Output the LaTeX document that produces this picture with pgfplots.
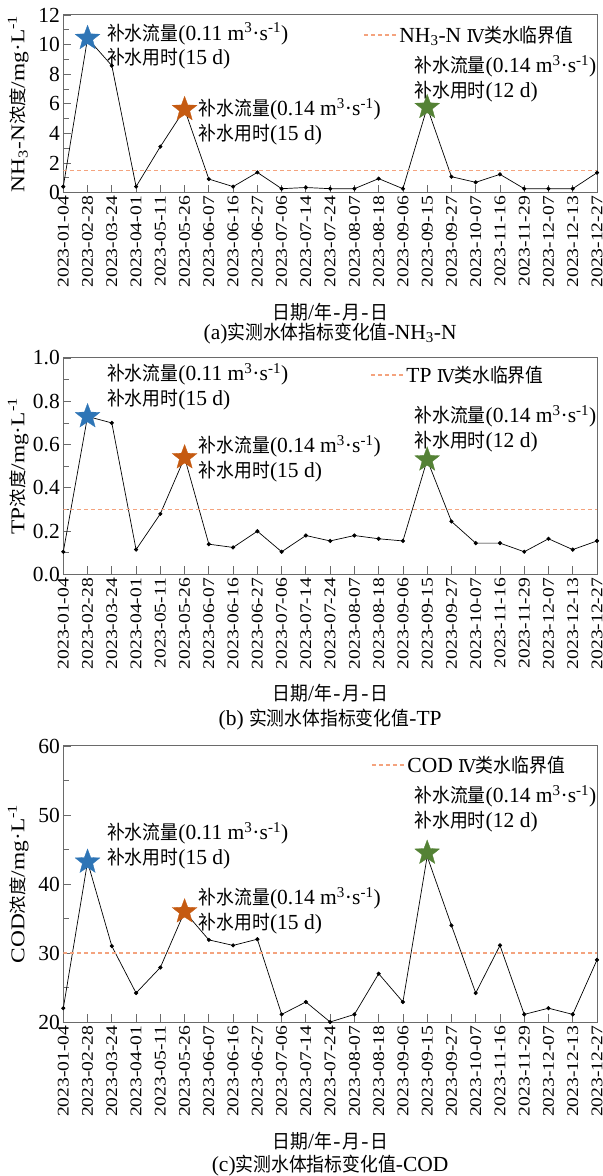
\documentclass[border=0pt]{standalone}
\usepackage{fontspec}
\setmainfont{Liberation Serif}
\newfontfamily\cjk{Noto Sans CJK SC}[Scale=0.9,FakeStretch=0.92]
\newfontfamily\rotlat{Liberation Serif}[FakeStretch=1.2]
\newfontfamily\rotcjk{Noto Sans CJK SC}[Scale=0.9,FakeStretch=1.05]
\newfontfamily\romfont{DejaVu Serif}[Scale=0.82]
\usepackage{pgfplots}
\pgfplotsset{compat=1.18}

\definecolor{starblue}{HTML}{2E75B6}
\definecolor{starorange}{HTML}{C55A11}
\definecolor{stargreen}{HTML}{548235}
\definecolor{limitcol}{HTML}{F4A37E}
\definecolor{framecol}{HTML}{6A6A6A}

% filled five-pointed star
\pgfdeclareplotmark{fstar}{%
  \pgfpathmoveto{\pgfpointpolar{90}{\pgfplotmarksize}}%
  \pgfpathlineto{\pgfpointpolar{126}{0.42\pgfplotmarksize}}%
  \pgfpathlineto{\pgfpointpolar{162}{\pgfplotmarksize}}%
  \pgfpathlineto{\pgfpointpolar{198}{0.42\pgfplotmarksize}}%
  \pgfpathlineto{\pgfpointpolar{234}{\pgfplotmarksize}}%
  \pgfpathlineto{\pgfpointpolar{270}{0.42\pgfplotmarksize}}%
  \pgfpathlineto{\pgfpointpolar{306}{\pgfplotmarksize}}%
  \pgfpathlineto{\pgfpointpolar{342}{0.42\pgfplotmarksize}}%
  \pgfpathlineto{\pgfpointpolar{18}{\pgfplotmarksize}}%
  \pgfpathlineto{\pgfpointpolar{54}{0.42\pgfplotmarksize}}%
  \pgfpathclose
  \pgfusepathqfillstroke}

\newcommand{\basefont}{\fontsize{21.5bp}{24.5bp}\selectfont}
\newcommand{\supply}[2]{{\cjk 补水流量}(#1 m\textsuperscript{3}·s\textsuperscript{-1})\\{\cjk 补水用时}(#2 d)}
\newcommand{\datelabel}{{\cjk 日期}/{\cjk 年}\hspace{1.5bp}-\hspace{1.5bp}{\cjk 月}\hspace{1.5bp}-\hspace{1.5bp}{\cjk 日}}
\newcommand{\classIV}{{\romfont Ⅳ}{\cjk 类水临界值}}

% measured concentrations, 2023 sampling dates
\pgfplotstableread{
i nh3n
0 0.41
1 10.43
2 8.58
3 0.41
4 3.11
5 5.63
6 0.92
7 0.41
8 1.37
9 0.27
10 0.35
11 0.27
12 0.27
13 0.95
14 0.27
15 5.77
16 1.08
17 0.70
18 1.24
19 0.27
20 0.27
21 0.27
22 1.35
}\nhtable
\pgfplotstableread{
i tp
0 0.105
1 0.73
2 0.70
3 0.115
4 0.28
5 0.54
6 0.14
7 0.125
8 0.20
9 0.105
10 0.18
11 0.155
12 0.18
13 0.165
14 0.155
15 0.53
16 0.245
17 0.145
18 0.145
19 0.105
20 0.165
21 0.115
22 0.155
}\tptable
\pgfplotstableread{
i cod
0 22
1 43.2
2 31
3 24.2
4 27.9
5 36
6 31.9
7 31.1
8 32
9 21.1
10 22.9
11 20
12 21.1
13 27
14 22.9
15 44
16 34
17 24.2
18 31.1
19 21.1
20 22
21 21.1
22 29
}\codtable

\tikzset{
  note/.style={anchor=north west, inner sep=0pt, align=left, font=\basefont},
  limitline/.style={limitcol, line width=1.25bp, dash pattern=on 4bp off 3bp},
}

\pgfplotsset{
  panel/.style={
    scale only axis, width=533.7bp,
    xmin=0, xmax=22, xtick={0,...,22},
    xticklabels={2023-01-04,2023-02-28,2023-03-24,2023-04-01,2023-05-11,2023-05-26,2023-06-07,2023-06-16,2023-06-27,2023-07-06,2023-07-14,2023-07-24,2023-08-07,2023-08-18,2023-09-06,2023-09-15,2023-09-27,2023-10-07,2023-11-16,2023-11-29,2023-12-07,2023-12-13,2023-12-27},
    xtick pos=bottom, ytick pos=left, tick align=inside,
    minor y tick num=1,
    major tick length=8bp, minor tick length=6bp,
    axis line style={framecol, line width=1bp},
    tick style={framecol, line width=0.8bp},
    /pgf/number format/assume math mode=true,
    xticklabel style={rotate=90, anchor=east, font=\rotlat\fontsize{16.3bp}{18bp}\selectfont},
    yticklabel style={font=\basefont},
    label style={font=\basefont},
    ylabel style={at={(axis description cs:0,0.5)}, anchor=center, yshift=45bp,
                  font=\rotlat\fontsize{19.5bp}{20bp}\selectfont},
    xlabel style={at={(axis description cs:0.5,0)}, anchor=center, yshift=-119bp},
    title style={at={(axis description cs:0.5,0)}, anchor=center, font=\basefont},
    xlabel={\datelabel},
    legend style={draw=none, fill=none, inner sep=0pt, font=\basefont, anchor=west},
    legend cell align=left,
    legend image code/.code={\draw[limitline] (0bp,0bp) -- (33bp,0bp);},
  },
  series/.style={black, line width=0.7bp, mark=*, mark size=1.7bp, forget plot},
  peak/.style={only marks, mark=fstar, mark size=13bp, forget plot,
               mark options={fill=#1, draw=#1, line width=0.3bp}},
}

\begin{document}
\begin{tikzpicture}
\useasboundingbox (0,0) rectangle (603bp,1176bp);

% (a) NH3-N
\begin{axis}[panel, at={(63.3bp,983.3bp)}, anchor=south west, height=177.7bp,
  ymin=0, ymax=12, ytick={0,2,...,12},
  ylabel={NH\textsubscript{3}-N{\rotcjk 浓度}/mg·L\textsuperscript{-1}},
  title={(a){\cjk 实测水体指标变化值}-NH\textsubscript{3}-N},
  title style={yshift=-147bp},
  legend style={at={(axis description cs:0.5616,0.887)}}]
\addplot[series] table[x=i, y=nh3n] {\nhtable};
\addplot[limitline] coordinates {(0,1.5) (22,1.5)};
\addlegendentry{NH\textsubscript{3}-N \classIV}
\addplot[peak=starblue] coordinates {(1,10.43)};
\addplot[peak=starorange] coordinates {(5,5.63)};
\addplot[peak=stargreen] coordinates {(15,5.77)};
\node[note] at (axis cs:1.8,11.48) {\supply{0.11}{15}};
\node[note] at (axis cs:5.58,6.39) {\supply{0.14}{15}};
\node[note] at (axis cs:14.47,9.30) {\supply{0.14}{12}};
\end{axis}

% (b) TP
\begin{axis}[panel, at={(63.3bp,601.5bp)}, anchor=south west, height=216.5bp,
  ymin=0, ymax=1, ytick={0,0.2,0.4,0.6,0.8,1.0},
  yticklabel style={/pgf/number format/fixed, /pgf/number format/fixed zerofill, /pgf/number format/precision=1},
  ylabel={TP{\rotcjk 浓度}/mg·L\textsuperscript{-1}},
  title={(b)\ {\cjk 实测水体指标变化值}-TP},
  title style={yshift=-151bp},
  legend style={at={(axis description cs:0.5747,0.921)}}]
\addplot[series] table[x=i, y=tp] {\tptable};
\addplot[limitline] coordinates {(0,0.3) (22,0.3)};
\addlegendentry{TP \classIV}
\addplot[peak=starblue] coordinates {(1,0.73)};
\addplot[peak=starorange] coordinates {(5,0.54)};
\addplot[peak=stargreen] coordinates {(15,0.53)};
\node[note] at (axis cs:1.8,0.977) {\supply{0.11}{15}};
\node[note] at (axis cs:5.58,0.644) {\supply{0.14}{15}};
\node[note] at (axis cs:14.47,0.783) {\supply{0.14}{12}};
\end{axis}

% (c) COD
\begin{axis}[panel, at={(63.3bp,154bp)}, anchor=south west, height=276bp,
  ymin=20, ymax=60, ytick={20,30,...,60},
  ylabel={COD{\rotcjk 浓度}/mg·L\textsuperscript{-1}},
  title={(c){\cjk 实测水体指标变化值}-COD},
  title style={yshift=-150bp},
  legend style={at={(axis description cs:0.5765,0.931)}}]
\addplot[series] table[x=i, y=cod] {\codtable};
\addplot[limitline] coordinates {(0,30) (22,30)};
\addlegendentry{COD \classIV}
\addplot[peak=starblue] coordinates {(1,43.2)};
\addplot[peak=starorange] coordinates {(5,36)};
\addplot[peak=stargreen] coordinates {(15,44.5)};
\node[note] at (axis cs:1.8,48.99) {\supply{0.11}{15}};
\node[note] at (axis cs:5.58,39.57) {\supply{0.14}{15}};
\node[note] at (axis cs:14.47,54.35) {\supply{0.14}{12}};
\end{axis}
\end{tikzpicture}
\end{document}
